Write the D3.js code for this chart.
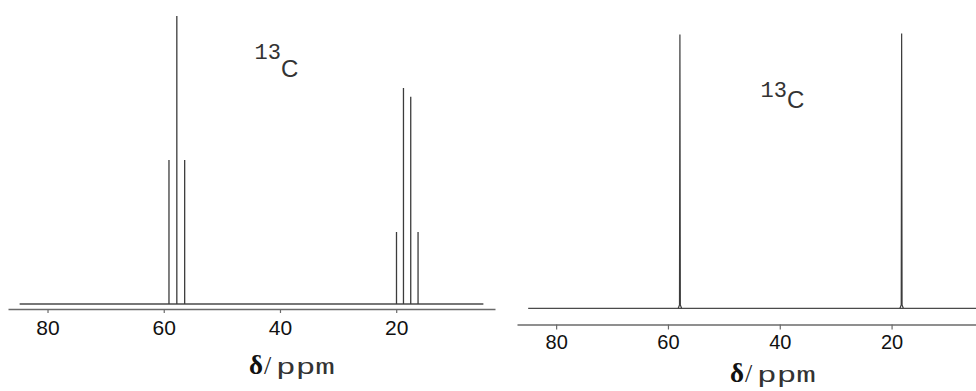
<!DOCTYPE html>
<html>
<head>
<meta charset="utf-8">
<script src="https://cdn.jsdelivr.net/npm/d3@7"></script>
<style>
  html, body { margin: 0; padding: 0; background: #fff; }
  svg { display: block; }
</style>
</head>
<body>
<svg id="chart" width="976" height="391"></svg>
<script>
// Coupled 13C spectrum (left): triplet + quartet, relative intensities
const coupledShifts  = [59.1, 57.75, 56.4, 19.95, 18.75, 17.5, 16.24];
const coupledHeights = [50, 100, 50, 25, 75, 72, 25];

// Proton-decoupled 13C spectrum (right): two singlets
const decoupledShifts  = [57.86, 18.2];
const decoupledHeights = [99.6, 100];

// Axis extents (ppm), acquisition window and tick labels
const leftAxisRange   = [86.8, 3.0];
const leftWindow      = [84.8, 5.0];
const rightAxisRange  = [87.0, 4.9];
const rightWindow     = [85.0, 4.9];
const tickLabels      = [80, 60, 40, 20];
const nucleusMass     = "13";
const nucleusSymbol   = "C";

const svg = d3.select("#chart");

function panel(cfg) {
  const x = d3.scaleLinear().domain(cfg.axisRange).range(cfg.xRange);
  const y = d3.scaleLinear().domain([0, 100]).range([cfg.baseY, cfg.topY]);
  const g = svg.append("g");

  // baseline of the spectrum
  g.append("line")
    .attr("x1", x(cfg.window[0])).attr("x2", x(cfg.window[1]))
    .attr("y1", cfg.baseY).attr("y2", cfg.baseY)
    .attr("stroke", "#4a4a4a").attr("stroke-width", 1.3);

  // peaks
  const peaks = cfg.shifts.map((s, i) => ({ s, h: cfg.heights[i] }));
  g.selectAll("path.peak").data(peaks).enter().append("path")
    .attr("class", "peak")
    .attr("fill", "none")
    .attr("stroke", "#3c3c3c")
    .attr("stroke-width", cfg.peakWidth)
    .attr("d", d => {
      if (cfg.foot) {
        return d3.line()([
          [x(d.s + cfg.foot), y(0)],
          [x(d.s + cfg.foot / 4), y(1.2)],
          [x(d.s), y(d.h)],
          [x(d.s - cfg.foot / 4), y(1.2)],
          [x(d.s - cfg.foot), y(0)]
        ]);
      }
      return d3.line()([[x(d.s), y(0)], [x(d.s), y(d.h)]]);
    });

  // ppm axis
  const axis = d3.axisBottom(x)
    .tickValues(tickLabels)
    .tickSize(cfg.tickSize)
    .tickSizeOuter(0)
    .tickPadding(cfg.tickPad)
    .tickFormat(d3.format("d"));
  const ag = g.append("g").attr("transform", `translate(0,${cfg.axisY})`).call(axis);
  ag.select(".domain").attr("stroke", "#6a6a6a").attr("stroke-width", 1.3);
  ag.selectAll(".tick line").attr("stroke", "#6a6a6a").attr("stroke-width", 1.2);
  ag.selectAll(".tick text")
    .attr("fill", "#111")
    .style("font-family", "'Liberation Sans', Arial, sans-serif")
    .style("font-size", cfg.tickFont + "px");

  // axis title δ/ppm
  g.append("text")
    .attr("x", cfg.titleX).attr("y", cfg.titleY)
    .style("font-family", "'Liberation Serif', 'DejaVu Serif', serif")
    .style("font-size", "27px")
    .style("font-weight", "bold")
    .attr("fill", "#111")
    .text("δ");
  g.append("text")
    .attr("x", cfg.titleX + 15).attr("y", cfg.titleY)
    .style("font-family", "'Liberation Serif', 'DejaVu Serif', serif")
    .style("font-size", "26px")
    .attr("fill", "#222")
    .text("/");
  g.append("text")
    .attr("x", cfg.titleX + 27).attr("y", cfg.titleY)
    .attr("textLength", 59)
    .attr("lengthAdjust", "spacingAndGlyphs")
    .style("font-family", "'Liberation Mono', 'DejaVu Sans Mono', monospace")
    .style("font-size", "22px")
    .attr("fill", "#333")
    .text("ppm");

  // nucleus label: mass number as a raised prefix, then the element symbol
  const lbl = g.append("text")
    .attr("x", cfg.massX).attr("y", cfg.massY)
    .attr("fill", "#333");
  lbl.append("tspan")
    .style("font-family", "'Liberation Mono', 'DejaVu Sans Mono', monospace")
    .style("font-size", "22px")
    .text(nucleusMass);
  lbl.append("tspan")
    .attr("dy", cfg.symDy)
    .style("font-family", "'Liberation Sans', Arial, sans-serif")
    .style("font-size", "24px")
    .text(nucleusSymbol);
}

panel({
  axisRange: leftAxisRange, window: leftWindow, xRange: [8, 495],
  baseY: 304, topY: 16, axisY: 309,
  shifts: coupledShifts, heights: coupledHeights,
  peakWidth: 1.3, foot: 0,
  tickSize: 4, tickPad: 7, tickFont: 21,
  titleX: 249, titleY: 374,
  massX: 254.5, massY: 58.5, symDy: 18.2
});

panel({
  axisRange: rightAxisRange, window: rightWindow, xRange: [517, 976],
  baseY: 308.3, topY: 33.5, axisY: 324.5,
  shifts: decoupledShifts, heights: decoupledHeights,
  peakWidth: 1.2, foot: 0.3,
  tickSize: 5, tickPad: 5, tickFont: 20,
  titleX: 730, titleY: 381.5,
  massX: 760.5, massY: 97, symDy: 10.5
});
</script>
</body>
</html>
